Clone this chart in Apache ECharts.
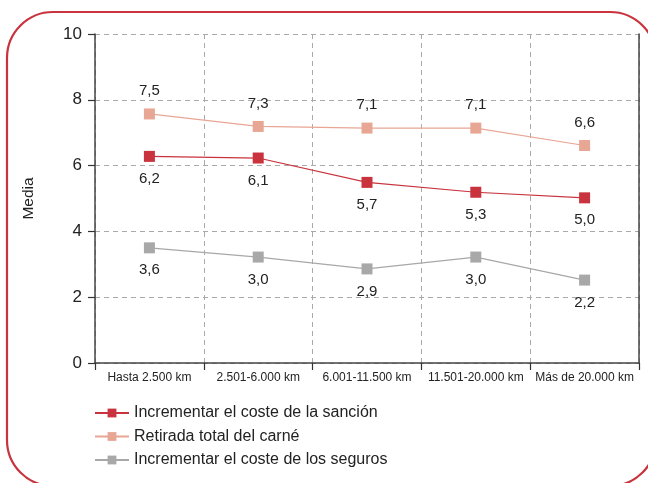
<!DOCTYPE html>
<html>
<head>
<meta charset="utf-8">
<script src="https://cdn.jsdelivr.net/npm/echarts@6/dist/echarts.min.js"></script>
<style>
  html, body { margin: 0; padding: 0; background: #fff; }
  #main { width: 648px; height: 483px; }
</style>
</head>
<body>
<div id="main"></div>
<script>
// categorías y valores
var categories = ['Hasta 2.500 km', '2.501-6.000 km', '6.001-11.500 km', '11.501-20.000 km', 'Más de 20.000 km'];
var seriesNames = ['Incrementar el coste de la sanción', 'Retirada total del carné', 'Incrementar el coste de los seguros'];

// posición de los marcadores
var sancion = [6.28, 6.23, 5.49, 5.19, 5.02];
var carne = [7.57, 7.19, 7.14, 7.14, 6.61];
var seguros = [3.50, 3.22, 2.86, 3.22, 2.52];

// etiquetas impresas
var sancionLabels = ['6,2', '6,1', '5,7', '5,3', '5,0'];
var carneLabels = ['7,5', '7,3', '7,1', '7,1', '6,6'];
var segurosLabels = ['3,6', '3,0', '2,9', '3,0', '2,2'];

var yTicks = [0, 2, 4, 6, 8, 10];

var colors = ['#c8333d', '#e8a695', '#a8a8a8'];
var font = 'Liberation Sans, Arial, sans-serif';

function makeSeries(name, values, labels, color, pos) {
    return {
        name: name,
        type: 'line',
        data: values,
        symbol: 'rect',
        symbolSize: 11,
        color: color,
        lineStyle: { width: 1.2, color: color },
        itemStyle: { color: color },
        label: {
            show: true,
            position: pos,
            distance: pos == 'top' ? 10 : 9.5,
            fontSize: 15,
            fontFamily: font,
            color: '#222',
            formatter: function (p) { return labels[p.dataIndex]; }
        },
        emphasis: { disabled: true },
        animation: false
    };
}

var myChart = echarts.init(document.getElementById('main'));

var option = {
    animation: false,
    textStyle: { fontFamily: font },
    graphic: [{
        type: 'rect',
        shape: { x: 7, y: 12, width: 649, height: 474, r: 46 },
        style: { fill: 'none', stroke: '#c8333d', lineWidth: 2.2 },
        z: -1
    }],
    grid: { left: 95, right: 9, top: 34, bottom: 120 },
    legend: {
        orient: 'vertical',
        left: 89,
        top: 400,
        itemWidth: 34,
        itemHeight: 11,
        itemGap: 7.5,
        textStyle: { fontSize: 16, color: '#222', fontFamily: font },
        data: seriesNames
    },
    xAxis: {
        type: 'category',
        data: categories,
        boundaryGap: true,
        axisLine: { lineStyle: { color: '#444', width: 1.5 } },
        axisTick: { show: true, interval: 0, length: 7, lineStyle: { color: '#333', width: 1.2 } },
        axisLabel: { interval: 0, fontSize: 12, color: '#222', margin: 9 },
        splitLine: { show: true, interval: 0, lineStyle: { color: '#aaa', type: [5, 4], width: 1 } }
    },
    yAxis: [{
        type: 'value',
        min: yTicks[0],
        max: yTicks[yTicks.length - 1],
        interval: 2,
        name: 'Media',
        nameLocation: 'middle',
        nameGap: 58,
        nameRotate: 90,
        nameTextStyle: { fontSize: 15.5, color: '#222' },
        axisLine: { show: true, lineStyle: { color: '#444', width: 1.5 } },
        axisTick: { show: true, length: 7, lineStyle: { color: '#333', width: 1.2 } },
        axisLabel: { fontSize: 17, color: '#222', margin: 13 },
        splitLine: { show: true, lineStyle: { color: '#aaa', type: [5, 4], width: 1 } }
    }, {
        type: 'value',
        min: 0,
        max: 10,
        interval: 2,
        position: 'right',
        axisLine: { show: true, lineStyle: { color: '#444', width: 1.5 } },
        axisTick: { show: false },
        axisLabel: { show: false },
        splitLine: { show: false }
    }],
    series: [
        makeSeries(seriesNames[0], sancion, sancionLabels, colors[0], 'bottom'),
        makeSeries(seriesNames[1], carne, carneLabels, colors[1], 'top'),
        makeSeries(seriesNames[2], seguros, segurosLabels, colors[2], 'bottom')
    ]
};

myChart.setOption(option);
</script>
</body>
</html>
